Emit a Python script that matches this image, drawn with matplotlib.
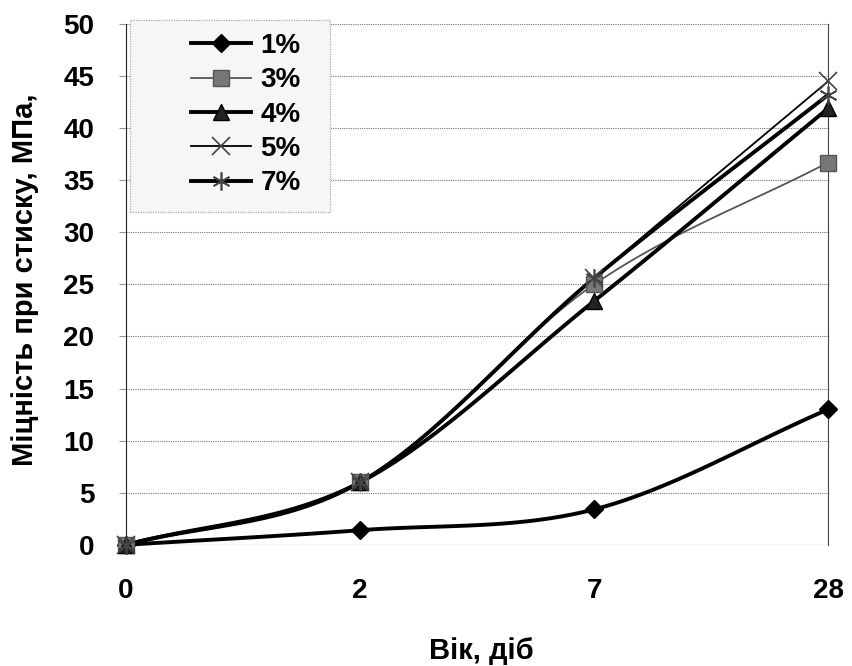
import numpy as np
import matplotlib.pyplot as plt
from matplotlib.patches import Rectangle

plt.rcParams['font.family'] = ['Liberation Sans', 'DejaVu Sans']

days = ['0', '2', '7', '28']
s1 = [0, 1.4, 3.4, 13.0]
s3 = [0, 6.0, 25.0, 36.7]
s4 = [0, 6.0, 23.4, 41.9]
s5 = [0, 6.0, 25.6, 44.5]
s7 = [0, 6.0, 25.6, 43.2]
names = ['1%', '3%', '4%', '5%', '7%']


def smooth(y, n=40):
    # згладжена лінія як в Excel (Catmull-Rom через точки)
    x = np.arange(len(y), dtype=float)
    y = np.asarray(y, dtype=float)
    px = np.concatenate([[2 * x[0] - x[1]], x, [2 * x[-1] - x[-2]]])
    py = np.concatenate([[2 * y[0] - y[1]], y, [2 * y[-1] - y[-2]]])
    xs, ys = [], []
    for i in range(1, len(px) - 2):
        t = np.linspace(0, 1, n)
        for arr, out in ((px, xs), (py, ys)):
            p0, p1, p2, p3 = arr[i - 1], arr[i], arr[i + 1], arr[i + 2]
            b = 0.5 * ((2 * p1) + (-p0 + p2) * t + (2 * p0 - 5 * p1 + 4 * p2 - p3) * t ** 2
                       + (-p0 + 3 * p1 - 3 * p2 + p3) * t ** 3)
            out.extend(b)
    return np.array(xs), np.array(ys)


fig = plt.figure(figsize=(8.52, 6.66), dpi=100)
ax = fig.add_axes([0.148, 0.182, 0.824, 0.782])

styles = [
    dict(color='black', lw=2.8, marker='D', ms=9, mfc='black', mec='black'),
    dict(color='#555555', lw=1.3, marker='s', ms=11, mfc='#777777', mec='#555555'),
    dict(color='black', lw=2.8, marker='^', ms=11, mfc='#222222', mec='black'),
    dict(color='black', lw=1.3, marker='x', ms=13, mfc='none', mec='#444444', mew=1.2),
    dict(color='black', lw=2.8, marker=(6, 2, 0), ms=13, mfc='none', mec='#444444', mew=1.2),
]
x = np.arange(len(days))
for y, name, st in zip([s1, s3, s4, s5, s7], names, styles):
    xs, ys = smooth(y)
    ax.plot(xs, ys, color=st['color'], lw=st['lw'], clip_on=False, zorder=3)
    ax.plot(x, y, ls='none', marker=st['marker'], ms=st['ms'], mfc=st['mfc'],
            mec=st['mec'], mew=st.get('mew', 1), clip_on=False, zorder=4)
    ax.plot([], [], color=st['color'], lw=st['lw'], marker=st['marker'], ms=st['ms'],
            mfc=st['mfc'], mec=st['mec'], mew=st.get('mew', 1), label=name)

ax.set_xlim(0, 3)
ax.set_ylim(0, 50)
ax.set_yticks(range(0, 51, 5))
ax.set_xticks(x)
ax.set_xticklabels(days)
ax.tick_params(axis='y', labelsize=20, length=5, color='#999999', pad=18)
ax.tick_params(axis='x', labelsize=20, length=0, pad=24)
for lab in ax.get_xticklabels() + ax.get_yticklabels():
    lab.set_fontweight('bold')
ax.yaxis.grid(True, color='#777777', lw=0.8, ls=(0, (1, 1)))
for sp in ['top', 'bottom']:
    ax.spines[sp].set_visible(False)
ax.spines['left'].set_color('#222222')
ax.spines['right'].set_color('#444444')
ax.spines['right'].set_linestyle((0, (1, 1)))
ax.axhline(0, color='#aaaaaa', lw=0.8)

fig.text(481 / 852, 1 - 651 / 666, 'Вік, діб', fontsize=21, fontweight='bold',
         ha='center', va='center')
fig.text(25 / 852, 1 - 280 / 666, 'Міцність при стиску, МПа,', fontsize=21,
         fontweight='bold', rotation=90, ha='center', va='center')

# рамка легенди
fig.patches.append(Rectangle((130 / 852, 1 - 212 / 666), 200 / 852, 192 / 666,
                             transform=fig.transFigure, facecolor='#f6f6f6',
                             edgecolor='#aaaaaa', lw=0.9, ls=(0, (1, 1)), zorder=2))
leg = fig.legend(loc='upper left', bbox_to_anchor=(191 / 852, 1 - 33 / 666),
                 prop={'weight': 'bold', 'size': 20}, frameon=False,
                 handlelength=2.15, labelspacing=0.3, borderpad=0, handletextpad=0.35,
                 borderaxespad=0)

fig.savefig('out.png', dpi=100)
